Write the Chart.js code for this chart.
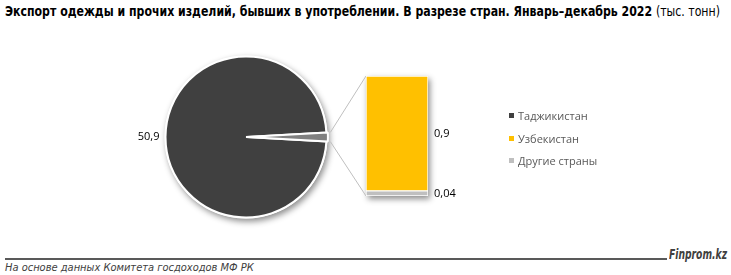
<!DOCTYPE html>
<html>
<head>
<meta charset="utf-8">
<script src="https://cdn.jsdelivr.net/npm/chart.js@4.4.1/dist/chart.umd.min.js"></script>
<style>
  body { margin: 0; width: 731px; height: 275px; background: #fff; position: relative; overflow: hidden; font-family: "Liberation Sans Narrow", "DejaVu Sans Condensed", "Roboto Condensed", "Liberation Sans", Arial, sans-serif; }
  #title { position: absolute; left: 5px; top: 3px; font-size: 14px; font-weight: bold; color: #000; white-space: nowrap; transform-origin: 0 0; }
  #title span { font-weight: normal; }
  #pieBox { position: absolute; left: 100px; top: 37px; width: 292px; height: 200px; }
  #barBox { position: absolute; left: 300px; top: 60px; width: 200px; height: 150px; }
  #legend { position: absolute; left: 509px; top: 107px; font-family: "Open Sans", "DejaVu Sans", sans-serif; font-size: 11px; color: #595959; }
  #legend div { height: 22.5px; line-height: 18px; white-space: nowrap; }
  #legend i { display: inline-block; width: 5px; height: 5px; margin-right: 4px; vertical-align: 2px; }
  #rule { position: absolute; left: 5px; top: 258px; width: 662px; height: 2px; background: #595959; }
  #brand { position: absolute; left: 669px; top: 246px; font-size: 14px; font-weight: bold; font-style: italic; color: #404040; white-space: nowrap; transform-origin: 0 0; }
  #source { position: absolute; left: 5px; top: 261px; font-size: 11px; font-style: italic; color: #404040; }
</style>
</head>
<body>
<div id="title">Экспорт одежды и прочих изделий, бывших в употреблении. В разрезе стран. Январь–декабрь 2022 <span>(тыс. тонн)</span></div>
<div id="pieBox"><canvas id="pie"></canvas></div>
<div id="barBox"><canvas id="bar"></canvas></div>
<div id="legend"></div>
<div id="rule"></div>
<div id="brand">Finprom.kz</div>
<div id="source">На основе данных Комитета госдоходов МФ РК</div>
<script>
// данные
const pieLabels = ['Таджикистан', 'Узбекистан и другие'];
const pieValues = [50.9, 0.94];
const barLabels = ['Другие страны', 'Узбекистан'];
const barValues = [0.04, 0.9];
const legendLabels = ['Таджикистан', 'Узбекистан', 'Другие страны'];

const colTaj = '#404040';
const colRest = '#808080';
const colUzb = '#FFC000';
const colOther = '#BFBFBF';
const legendColors = [colTaj, colUzb, colOther];

const fmt = v => String(v).replace('.', ',');

// сжать текст до нужной ширины (узкого шрифта нет)
const fitWidth = (id, w) => {
  const el = document.getElementById(id);
  const k = w / el.getBoundingClientRect().width;
  if (k < 1) el.style.transform = 'scaleX(' + k + ')';
};
fitWidth('title', 715);
fitWidth('brand', 58);

// легенда
const legend = document.getElementById('legend');
legendLabels.forEach((l, i) => {
  const d = document.createElement('div');
  d.innerHTML = '<i style="background:' + legendColors[i] + '"></i>' + l;
  legend.appendChild(d);
});

const pieTotal = pieValues.reduce((a, b) => a + b, 0);
const rot = 90 - 360 * (pieValues[0] + pieValues[1] / 2) / pieTotal;

const pieShadow = {
  id: 'pieShadow',
  beforeDatasetsDraw(chart) {
    const arc = chart.getDatasetMeta(0).data[0];
    const c = chart.ctx;
    c.save();
    c.shadowColor = 'rgba(0,0,0,0.45)';
    c.shadowBlur = 6;
    c.shadowOffsetX = 2;
    c.shadowOffsetY = 3;
    c.fillStyle = '#fff';
    c.beginPath();
    c.arc(arc.x, arc.y, arc.outerRadius + 1, 0, Math.PI * 2);
    c.fill();
    c.restore();
  },
  afterDatasetsDraw(chart) {
    const arc = chart.getDatasetMeta(0).data[0];
    const c = chart.ctx;
    c.save();
    c.fillStyle = '#000';
    c.font = '11px "Open Sans", "DejaVu Sans", sans-serif';
    c.textAlign = 'right';
    c.textBaseline = 'middle';
    c.fillText(fmt(pieValues[0]), arc.x - arc.outerRadius - 6, arc.y);
    c.restore();
  }
};

const pieChart = new Chart(document.getElementById('pie'), {
  type: 'pie',
  data: {
    labels: pieLabels,
    datasets: [{
      data: pieValues,
      backgroundColor: [colTaj, colRest],
      borderColor: '#fff',
      borderWidth: 2,
      offset: [0, 3]
    }]
  },
  options: {
    responsive: true,
    maintainAspectRatio: false,
    animation: false,
    rotation: rot,
    layout: { padding: { left: 63, right: 63, top: 17, bottom: 17 } },
    plugins: { legend: { display: false }, tooltip: { enabled: false } }
  },
  plugins: [pieShadow]
});

const barExtras = {
  id: 'barExtras',
  beforeDatasetsDraw(chart) {
    const bottom = chart.getDatasetMeta(0).data[0];
    const top = chart.getDatasetMeta(1).data[0];
    const left = top.x - top.width / 2;
    const c = chart.ctx;
    // тень столбца
    c.save();
    c.shadowColor = 'rgba(0,0,0,0.45)';
    c.shadowBlur = 6;
    c.shadowOffsetX = 2;
    c.shadowOffsetY = 3;
    c.fillStyle = '#fff';
    c.fillRect(left, top.y, top.width, bottom.base - top.y);
    c.restore();

    // линии к сектору
    const arc = pieChart.getDatasetMeta(0).data[1];
    const pr = document.getElementById('pie').getBoundingClientRect();
    const br = chart.canvas.getBoundingClientRect();
    const dx = pr.left - br.left, dy = pr.top - br.top;
    const mid = (arc.startAngle + arc.endAngle) / 2;
    const off = 3;
    const cx = arc.x + dx + Math.cos(mid) * off;
    const cy = arc.y + dy + Math.sin(mid) * off;
    const r = arc.outerRadius + 1;
    c.save();
    c.strokeStyle = '#BFBFBF';
    c.lineWidth = 1;
    c.beginPath();
    c.moveTo(cx + Math.cos(arc.startAngle) * r, cy + Math.sin(arc.startAngle) * r);
    c.lineTo(left, top.y);
    c.moveTo(cx + Math.cos(arc.endAngle) * r, cy + Math.sin(arc.endAngle) * r);
    c.lineTo(left, bottom.base);
    c.stroke();
    c.restore();
  },
  afterDatasetsDraw(chart) {
    const c = chart.ctx;
    c.save();
    c.fillStyle = '#000';
    c.font = '11px "Open Sans", "DejaVu Sans", sans-serif';
    c.textAlign = 'left';
    c.textBaseline = 'middle';
    chart.data.datasets.forEach((ds, i) => {
      const b = chart.getDatasetMeta(i).data[0];
      c.fillText(fmt(ds.data[0]), b.x + b.width / 2 + 6, (b.y + b.base) / 2);
    });
    c.restore();
  }
};

new Chart(document.getElementById('bar'), {
  type: 'bar',
  data: {
    labels: [''],
    datasets: [
      { label: barLabels[0], data: [barValues[0]], backgroundColor: colOther, borderColor: '#fff', borderWidth: 1, borderSkipped: false },
      { label: barLabels[1], data: [barValues[1]], backgroundColor: colUzb, borderColor: '#fff', borderWidth: 1, borderSkipped: false }
    ]
  },
  options: {
    responsive: true,
    maintainAspectRatio: false,
    animation: false,
    barPercentage: 1,
    categoryPercentage: 1,
    layout: { padding: { left: 66, right: 72, top: 16, bottom: 14 } },
    scales: {
      x: { display: false, stacked: true },
      y: { display: false, stacked: true, min: 0, max: barValues.reduce((a, b) => a + b, 0) }
    },
    plugins: { legend: { display: false }, tooltip: { enabled: false } }
  },
  plugins: [barExtras]
});
</script>
</body>
</html>
